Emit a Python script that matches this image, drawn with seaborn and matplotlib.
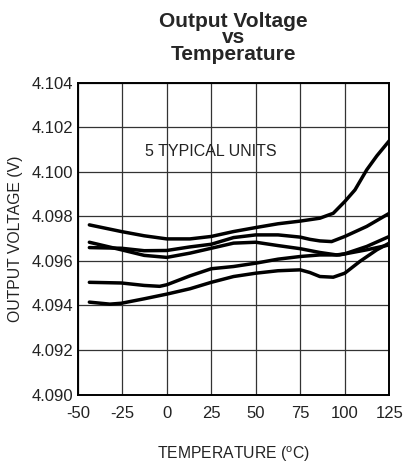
import pandas as pd
import seaborn as sns
import matplotlib.pyplot as plt

# temperatures (C) and output voltages (V) of the 5 units
temp_a = [-43.5, -25.5, -12.7, 0, 13, 25, 37.5, 50, 62.5, 75, 86, 93.5, 100, 105.7, 112.3, 118, 125]
volt_a = [4.09762, 4.09732, 4.09713, 4.09699, 4.09699, 4.09710, 4.09732, 4.09750, 4.09767,
          4.09779, 4.09792, 4.09814, 4.09867, 4.09919, 4.10009, 4.10072, 4.10140]

temp_b = [-43.5, -25.5, -12.7, 0, 13, 25, 37.5, 50, 62.5, 75, 80.4, 86, 92.6, 100, 112.3, 125]
volt_b = [4.09660, 4.09657, 4.09646, 4.09647, 4.09663, 4.09675, 4.09705, 4.09717, 4.09717,
          4.09707, 4.09697, 4.09690, 4.09687, 4.09710, 4.09755, 4.09814]

temp_c = [-43.5, -25.5, -12.7, 0, 13, 25, 37.5, 50, 62.5, 75, 86, 95.4, 100, 112.3, 125]
volt_c = [4.09684, 4.09650, 4.09625, 4.09616, 4.09635, 4.09657, 4.09680, 4.09684, 4.09669,
          4.09655, 4.09638, 4.09627, 4.09632, 4.09665, 4.09710]

temp_d = [-43.5, -25.5, -12.7, -4, 0, 13, 25, 37.5, 50, 62.5, 75, 86, 97, 112.3, 125]
volt_d = [4.09504, 4.09501, 4.09490, 4.09486, 4.09493, 4.09533, 4.09565, 4.09575, 4.09590,
          4.09608, 4.09620, 4.09627, 4.09627, 4.09650, 4.09672]

temp_e = [-43.5, -32, -25.5, -12.7, 0, 13, 25, 37.5, 50, 62.5, 75, 80.4, 86, 93.5, 100, 108.5, 118, 125]
volt_e = [4.09415, 4.09406, 4.09410, 4.09430, 4.09451, 4.09475, 4.09504, 4.09530, 4.09545,
          4.09556, 4.09560, 4.09548, 4.09530, 4.09527, 4.09545, 4.09598, 4.09650, 4.09680]

x_ticks = [-50, -25, 0, 25, 50, 75, 100, 125]
y_ticks = [4.090, 4.092, 4.094, 4.096, 4.098, 4.100, 4.102, 4.104]

units = {"A": (temp_a, volt_a), "B": (temp_b, volt_b), "C": (temp_c, volt_c),
         "D": (temp_d, volt_d), "E": (temp_e, volt_e)}
frames = []
for name, (t, v) in units.items():
    frames.append(pd.DataFrame({"temp": t, "volt": v, "unit": name}))
df = pd.concat(frames, ignore_index=True)

sns.set_style("white")
plt.rcParams["font.family"] = ["Liberation Sans", "DejaVu Sans"]
plt.rcParams["mathtext.fontset"] = "custom"
plt.rcParams["mathtext.rm"] = "Liberation Sans"

fig = plt.figure(figsize=(4.03, 4.68), dpi=100)
ax = fig.add_axes([0.193, 0.157, 0.773, 0.666])

sns.lineplot(data=df, x="temp", y="volt", units="unit", estimator=None,
             color="black", linewidth=2.5, ax=ax, sort=True,
             solid_capstyle="round", solid_joinstyle="round")

ax.set_xlim(-50, 125)
ax.set_ylim(4.090, 4.104)
ax.set_xticks(x_ticks)
ax.set_yticks(y_ticks)
ax.set_xticklabels([str(t) for t in x_ticks])
ax.set_yticklabels([f"{v:.3f}" for v in y_ticks])
ax.tick_params(length=0, labelsize=12, colors="#222222")
ax.tick_params(axis="x", pad=8)
ax.tick_params(axis="y", pad=3)
ax.grid(True, color="#333333", linewidth=0.9)
for s in ax.spines.values():
    s.set_color("black")
    s.set_linewidth(1.4)

ax.set_xlabel("TEMPERATURE ($^{\\mathrm{o}}$C)", fontsize=11.3, color="#222222")
ax.set_ylabel("OUTPUT VOLTAGE (V)", fontsize=11.3, color="#222222")
ax.xaxis.label.set_va("center")
ax.yaxis.label.set_va("center")
ax.xaxis.set_label_coords(0.5, -0.193)
ax.yaxis.set_label_coords(-0.201, 0.5)

fig.text(0.579, 0.919, "Output Voltage\nvs\nTemperature", ha="center", va="center",
         fontsize=15, fontweight="bold", linespacing=0.85)
ax.text(25, 4.1009, "5 TYPICAL UNITS", ha="center", va="center", fontsize=11.5, color="#222222")

fig.savefig("out.png", dpi=100)
